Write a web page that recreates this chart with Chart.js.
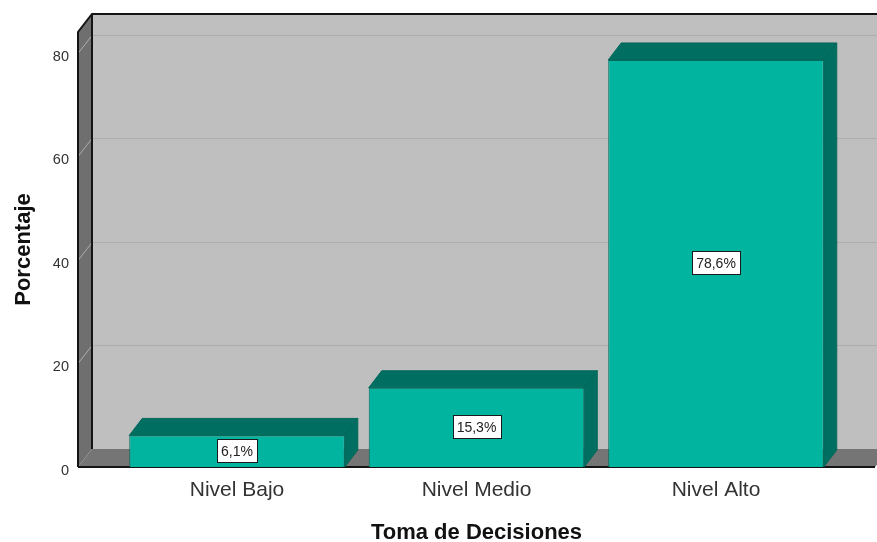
<!DOCTYPE html>
<html>
<head>
<meta charset="utf-8">
<style>
html, body { margin: 0; padding: 0; background: #fff; }
canvas { display: block; }
</style>
<script src="https://cdn.jsdelivr.net/npm/chart.js@4"></script>
</head>
<body>
<canvas id="chart" width="877" height="542"></canvas>
<script>
const categories = ['Nivel Bajo', 'Nivel Medio', 'Nivel Alto'];
const percentages = [6.1, 15.3, 78.6];
const percentLabels = ['6,1%', '15,3%', '78,6%'];
const yTicks = [0, 20, 40, 60, 80];

// depth of the fake 3D box, bars are a touch shallower than the walls
const DX = 14, DY = -18;
const BAR_DX = 13, BAR_DY = -17;

function poly(ctx, pts, fill, stroke) {
    ctx.beginPath();
    pts.forEach((p, i) => i ? ctx.lineTo(p[0], p[1]) : ctx.moveTo(p[0], p[1]));
    ctx.closePath();
    ctx.fillStyle = fill;
    ctx.fill();
    if (stroke) {
        ctx.strokeStyle = stroke;
        ctx.lineWidth = 1;
        ctx.stroke();
    }
}

// walls, floor and grid behind the bars
const box3d = {
    id: 'box3d',
    beforeDatasetsDraw(chart) {
        const { ctx, chartArea: a, scales: { y } } = chart;
        const l = a.left, r = a.right, t = a.top, b = a.bottom;
        ctx.save();
        poly(ctx, [[l + DX, t + DY], [r + DX, t + DY], [r + DX, b + DY], [l + DX, b + DY]], '#bfbfbf');
        poly(ctx, [[l, t], [l + DX, t + DY], [l + DX, b + DY], [l, b]], '#6f6f6f');
        poly(ctx, [[l, b], [l + DX, b + DY], [r + DX, b + DY], [r, b]], '#757575');

        ctx.strokeStyle = '#adadad';
        ctx.lineWidth = 1;
        yTicks.slice(1).forEach(v => {
            const py = Math.round(y.getPixelForValue(v)) + 0.5;
            ctx.beginPath();
            ctx.moveTo(l, py);
            ctx.lineTo(l + DX, py + DY);
            ctx.lineTo(r + DX, py + DY);
            ctx.stroke();
        });

        ctx.strokeStyle = '#141414';
        ctx.lineWidth = 2;
        ctx.beginPath();
        ctx.moveTo(l, b);
        ctx.lineTo(l, t);
        ctx.lineTo(l + DX, t + DY);
        ctx.lineTo(r + DX, t + DY);
        ctx.moveTo(l + DX, t + DY);
        ctx.lineTo(l + DX, b + DY);
        ctx.moveTo(l, b);
        ctx.lineTo(r, b);
        ctx.stroke();
        ctx.restore();
    },
    // top and side faces of each bar, then the value boxes
    afterDatasetsDraw(chart) {
        const { ctx } = chart;
        const bars = chart.getDatasetMeta(0).data;
        ctx.save();
        bars.forEach((bar, i) => {
            const h = bar.width / 2;
            const l = bar.x - h, r = bar.x + h, t = bar.y, b = bar.base;
            poly(ctx, [[l, t], [l + BAR_DX, t + BAR_DY], [r + BAR_DX, t + BAR_DY], [r, t]], '#006e60', '#00685a');
            poly(ctx, [[r, t], [r + BAR_DX, t + BAR_DY], [r + BAR_DX, b + BAR_DY], [r, b]], '#006e60', '#00685a');

            ctx.font = '14px "Liberation Sans"';
            const w = ctx.measureText(percentLabels[i]).width + 8;
            const cy = (t + b) / 2;
            const bx = Math.round(bar.x - w / 2) + 0.5, by = Math.round(cy - 12) + 0.5;
            ctx.fillStyle = '#fff';
            ctx.fillRect(bx, by, Math.round(w), 23);
            ctx.strokeStyle = '#1a1a1a';
            ctx.lineWidth = 1;
            ctx.strokeRect(bx, by, Math.round(w), 23);
            ctx.fillStyle = '#222';
            ctx.textAlign = 'center';
            ctx.textBaseline = 'middle';
            ctx.fillText(percentLabels[i], bar.x, cy + 1);
        });
        ctx.restore();
    }
};

new Chart(document.getElementById('chart').getContext('2d'), {
    type: 'bar',
    data: {
        datasets: [{
            data: percentages.map((v, i) => ({ x: i, y: v })),
            backgroundColor: '#00b4a0',
            borderColor: '#006e60',
            borderWidth: 1,
            barPercentage: 1,
            categoryPercentage: 0.9
        }]
    },
    options: {
        responsive: false,
        animation: false,
        layout: { padding: { top: 32, right: 2, left: 0, bottom: 0 } },
        plugins: { legend: { display: false }, tooltip: { enabled: false } },
        scales: {
            x: {
                type: 'linear',
                offset: false,
                min: -0.664,
                max: 2.664,
                grid: { display: false },
                border: { display: false },
                afterBuildTicks(scale) { scale.ticks = categories.map((c, i) => ({ value: i })); },
                afterFit(scale) { scale.height = 75; },
                ticks: {
                    autoSkip: false,
                    maxRotation: 0,
                    padding: 3,
                    color: '#333',
                    font: { family: '"Liberation Sans"', size: 21 },
                    callback: v => categories[v]
                },
                title: {
                    display: true,
                    text: 'Toma de Decisiones',
                    color: '#111',
                    font: { family: '"Liberation Sans"', size: 22, weight: 'bold', lineHeight: 0.8 },
                    padding: { top: 14, bottom: 0 }
                }
            },
            y: {
                min: 0,
                max: 84,
                grid: { display: false },
                border: { display: false },
                afterBuildTicks(scale) { scale.ticks = yTicks.map(v => ({ value: v })); },
                afterFit(scale) { scale.width = 78; },
                ticks: {
                    padding: 1,
                    labelOffset: 4,
                    color: '#333',
                    font: { family: '"Liberation Sans"', size: 14.5 }
                },
                title: {
                    display: true,
                    text: 'Porcentaje',
                    color: '#111',
                    font: { family: '"Liberation Sans"', size: 22, weight: 'bold' },
                    padding: { top: 11, bottom: 0 }
                }
            }
        }
    },
    plugins: [box3d]
});
</script>
</body>
</html>
